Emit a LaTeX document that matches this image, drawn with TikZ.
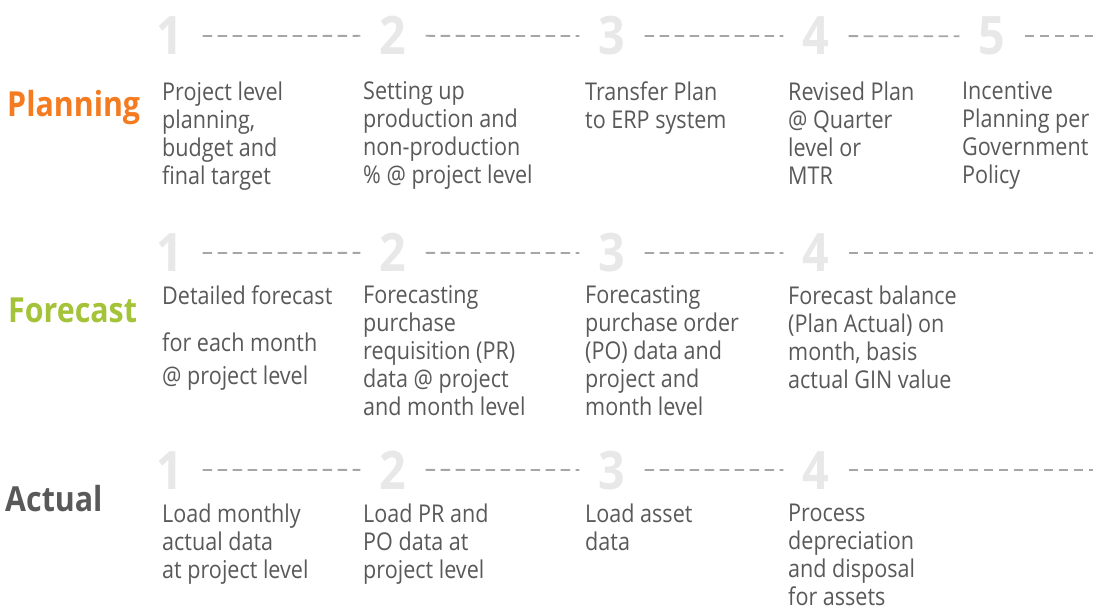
\documentclass[tikz,border=0pt]{standalone}
\usepackage{fontspec}
\setmainfont{Open Sans}[FakeStretch=0.88]
\usepackage{xcolor}
\usepackage{tikz}
\usetikzlibrary{positioning,calc}

\definecolor{plancolor}{HTML}{F47B20}
\definecolor{fcstcolor}{HTML}{A4C339}
\definecolor{actcolor}{HTML}{595959}
\definecolor{bodycolor}{HTML}{595959}
\definecolor{numcolor}{HTML}{E8E8E8}
\definecolor{dashcolor}{HTML}{A6A6A6}

\begin{document}
\begin{tikzpicture}[x=1bp, y=-1bp,
    num/.style={anchor=base, inner xsep=19bp, inner ysep=0pt, text=numcolor, font=\fontsize{53bp}{53bp}\selectfont\bfseries},
    head/.style={anchor=base west, inner sep=0pt, font=\fontsize{34.5bp}{40bp}\selectfont\bfseries},
    desc/.style={anchor=north west, inner sep=0pt, align=left, text=bodycolor, font=\fontsize{24.5bp}{28bp}\selectfont, execute at begin node=\strut},
    dashline/.style={draw=dashcolor, line width=1.8bp, dash pattern=on 9.5bp off 5.5bp}]
    \path [fill=white, use as bounding box] (0,0) rectangle (1093,609);
    \coordinate (rightedge) at (1093,0);

    \node [head, text=plancolor] (plan) at (7,117) {Planning};
    \node [head, text=fcstcolor] (fcst) at (8,323) {Forecast};
    \node [head, text=actcolor] (act) at (5,511) {Actual};

    \node [num] (p1) at (170,55) {1};
    \node [num] (p2) at (393,55) {2};
    \node [num] (p3) at (612,55) {3};
    \node [num] (p4) at (816,55) {4};
    \node [num] (p5) at (992,55) {5};

    \node [num] (f1) at (170,272) {1};
    \node [num] (f2) at (393,272) {2};
    \node [num] (f3) at (612,272) {3};
    \node [num] (f4) at (816,272) {4};

    \node [num] (a1) at (170,489) {1};
    \node [num] (a2) at (393,489) {2};
    \node [num] (a3) at (612,489) {3};
    \node [num] (a4) at (816,489) {4};

    \node [desc] (pt1) at (162,81.4) {Project level\\planning,\\budget and\\final target};
    \node [desc] (pt2) at (363,81.4) {Setting up\\production and\\non-production\\\% @ project level};
    \node [desc] (pt3) at (585,81.4) {Transfer Plan\\to ERP system};
    \node [desc] (pt4) at (788,81.4) {Revised Plan\\@ Quarter\\level or\\MTR};
    \node [desc] (pt5) at (962,81.4) {Incentive\\Planning per\\Government\\Policy};

    \node [desc] (ft1) at (162,285.4) {Detailed forecast\\[19bp]for each month\\[5bp]@ project level};
    \node [desc] (ft2) at (363,285.4) {Forecasting\\purchase\\requisition (PR)\\data @ project\\and month level};
    \node [desc] (ft3) at (585,285.4) {Forecasting\\purchase order\\(PO) data and\\project and\\month level};
    \node [desc] (ft4) at (788,285.4) {Forecast balance\\(Plan Actual) on\\month, basis\\actual GIN value};

    \node [desc] (at1) at (162,503.4) {Load monthly\\actual data\\at project level};
    \node [desc] (at2) at (363,503.4) {Load PR and\\PO data at\\project level};
    \node [desc] (at3) at (585,503.4) {Load asset\\data};
    \node [desc] (at4) at (788,503.4) {Process\\depreciation\\and disposal\\for assets};

    \draw [dashline] (p1) -- (p2);
    \draw [dashline] (p2) -- (p3);
    \draw [dashline] (p3) -- (p4);
    \draw [dashline] (p4) -- (p5);
    \draw [dashline] (p5) -- (p5 -| rightedge);

    \draw [dashline] (f1) -- (f2);
    \draw [dashline] (f2) -- (f3);
    \draw [dashline] (f3) -- (f4);
    \draw [dashline] (f4) -- (f4 -| rightedge);

    \draw [dashline] (a1) -- (a2);
    \draw [dashline] (a2) -- (a3);
    \draw [dashline] (a3) -- (a4);
    \draw [dashline] (a4) -- (a4 -| rightedge);
\end{tikzpicture}
\end{document}
